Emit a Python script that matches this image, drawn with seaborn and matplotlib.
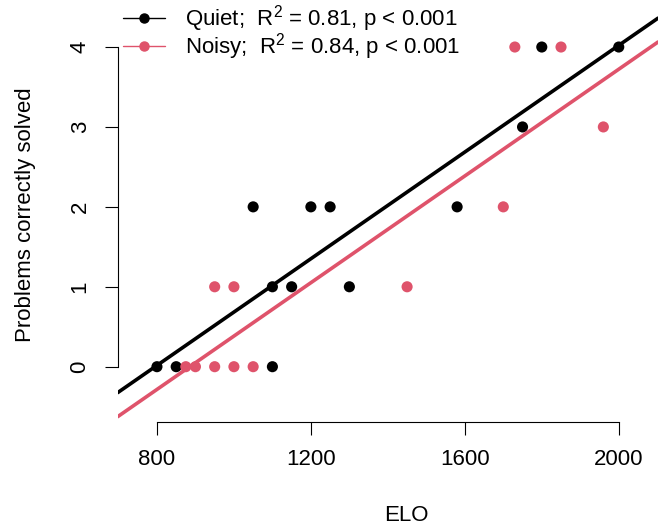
import matplotlib
matplotlib.use("Agg")
import matplotlib.pyplot as plt
from matplotlib.lines import Line2D
import seaborn as sns
import pandas as pd
import numpy as np

# ---- data ----
quiet_elo = [800, 850, 1100, 1050, 1100, 1150, 1200, 1250, 1300, 1580, 1750, 1800, 2000]
quiet_solved = [0, 0, 0, 2, 1, 1, 2, 2, 1, 2, 3, 4, 4]
noisy_elo = [875, 900, 950, 1000, 1050, 950, 1000, 1450, 1700, 1960, 1730, 1850]
noisy_solved = [0, 0, 0, 0, 0, 1, 1, 1, 2, 3, 4, 4]
x_ticks = [800, 1200, 1600, 2000]
y_ticks = [0, 1, 2, 3, 4]
legend_labels = [r"Quiet;  R$^2$ = 0.81, p < 0.001", r"Noisy;  R$^2$ = 0.84, p < 0.001"]

BLACK = "#000000"
RED = "#DF536B"

sns.set_style("white")
plt.rcParams["font.family"] = ["Liberation Sans", "DejaVu Sans"]
plt.rcParams["mathtext.fontset"] = "custom"
plt.rcParams["mathtext.rm"] = "Liberation Sans"
plt.rcParams["mathtext.it"] = "Liberation Sans:italic"
plt.rcParams["mathtext.bf"] = "Liberation Sans:bold"
plt.rcParams["text.color"] = "black"
plt.rcParams["axes.labelcolor"] = "black"
plt.rcParams["xtick.color"] = "black"
plt.rcParams["ytick.color"] = "black"

quiet = pd.DataFrame({"ELO": quiet_elo, "Solved": quiet_solved})
noisy = pd.DataFrame({"ELO": noisy_elo, "Solved": noisy_solved})

W, H = 661, 529
fig = plt.figure(figsize=(W / 100, H / 100), dpi=100)
left, right, bottom, top = 117.7, 658.0, 422.0, 7.7
ax = fig.add_axes([left / W, (H - bottom) / H, (right - left) / W, (bottom - top) / H])
xlim = (698, 2102)
ylim = (-0.692, 4.492)
ax.set_xlim(*xlim)
ax.set_ylim(*ylim)

sns.scatterplot(data=quiet, x="ELO", y="Solved", ax=ax, color=BLACK, s=64,
                edgecolor="none", zorder=3, legend=False)
sns.scatterplot(data=noisy, x="ELO", y="Solved", ax=ax, color=RED, s=64,
                edgecolor="none", zorder=3, legend=False)
sns.regplot(data=quiet, x="ELO", y="Solved", ax=ax, scatter=False, ci=None,
            truncate=False, color=BLACK, line_kws={"lw": 2.6, "zorder": 4})
sns.regplot(data=noisy, x="ELO", y="Solved", ax=ax, scatter=False, ci=None,
            truncate=False, color=RED, line_kws={"lw": 2.6, "zorder": 4})
ax.set_xlim(*xlim)
ax.set_ylim(*ylim)

for s in ["top", "right"]:
    ax.spines[s].set_visible(False)
for s in ["left", "bottom"]:
    ax.spines[s].set_color("black")
    ax.spines[s].set_linewidth(0.8)
ax.spines["bottom"].set_bounds(x_ticks[0], x_ticks[-1])
ax.spines["left"].set_bounds(y_ticks[0], y_ticks[-1])
ax.set_xticks(x_ticks)
ax.set_yticks(y_ticks)
ax.tick_params(direction="out", length=9.5, width=0.8, colors="black",
               labelsize=16, pad=10, left=True, bottom=True)
ax.tick_params(axis="y", labelrotation=90)
for lab in ax.get_yticklabels():
    lab.set_va("center")

ax.set_xlabel("ELO", fontsize=16)
ax.set_ylabel("Problems correctly solved", fontsize=16)
ax.xaxis.set_label_coords((406 - left) / (right - left), -0.2)
ax.yaxis.set_label_coords((36 - left) / (right - left), 0.5)

handles = [Line2D([0], [0], color=BLACK, marker="o", markersize=6.5, lw=1),
           Line2D([0], [0], color=RED, marker="o", markersize=6.5, lw=1)]
leg = ax.legend(handles, legend_labels, loc="upper left", frameon=False,
                fontsize=16, handlelength=1.9, handletextpad=0.9,
                labelspacing=-0.12, borderaxespad=0, borderpad=0,
                bbox_to_anchor=(123 / W, (H - 3) / H), bbox_transform=fig.transFigure)

fig.savefig("out.png", dpi=100)
